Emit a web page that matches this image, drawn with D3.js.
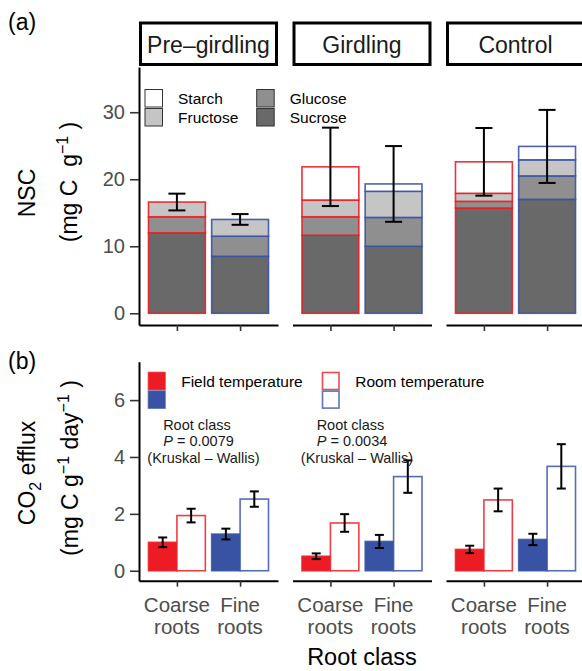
<!DOCTYPE html>
<html>
<head>
<meta charset="utf-8">
<script src="https://cdn.jsdelivr.net/npm/d3@7"></script>
<style>
  body { margin: 0; background: #fff; }
  svg { display: block; }
  text { font-family: "Liberation Sans", Arial, Helvetica, sans-serif; white-space: pre; }
</style>
</head>
<body>
<svg width="582" height="671"></svg>
<script>
// facets and root classes (rows of the arrays below: facet * 2 + root)
var facets = ["Pre–girdling", "Girdling", "Control"],
  roots = [["Coarse", "roots"], ["Fine", "roots"]],
  // (a) NSC stacks, mg C g-1
  sucrose  = [12.0, 8.5, 11.65, 10.0, 15.7, 17.0],
  glucose  = [2.4, 3.0, 2.75, 4.3, 1.0, 3.5],
  fructose = [2.2, 2.5, 2.5, 3.9, 1.2, 2.4],
  starch   = [0, 0, 4.95, 1.1, 4.7, 2.0],
  nscSE    = [1.25, 0.8, 5.85, 5.65, 5.05, 5.45],
  // (b) CO2 efflux, mg C g-1 day-1
  field    = [1.0, 1.29, 0.51, 1.03, 0.75, 1.1],
  fieldSE  = [0.17, 0.19, 0.1, 0.23, 0.13, 0.2],
  room     = [1.94, 2.52, 1.68, 3.31, 2.49, 3.67],
  roomSE   = [0.24, 0.27, 0.31, 0.57, 0.4, 0.78],
  pValues  = ["0.0079", "0.0034", null],
  nscTicks = [0, 10, 20, 30],
  effluxTicks = [0, 2, 4, 6];

var svg = d3.select("svg"),
  red = "#ed1c24",
  blue = "#3953a4",
  sugarNames = ["Sucrose", "Glucose", "Fructose", "Starch"],
  sugarFill = {Sucrose: "#696969", Glucose: "#8f8f8f", Fructose: "#c4c5c4", Starch: "#ffffff"},
  sugars = {Sucrose: sucrose, Glucose: glucose, Fructose: fructose, Starch: starch};

var panel = d3.scaleBand().domain(facets).range([139, 585]).paddingInner(0.0945).paddingOuter(0),
  ya = d3.scaleLinear().domain([-1.75, 36.75]).range([325, 67]),
  yb = d3.scaleLinear().domain([-0.35, 7.35]).range([580.7, 361.7]);

function xIn(f){
  return d3.scaleLinear().domain([0.4, 2.6]).range([panel(f), panel(f) + panel.bandwidth()]);
}

function rootColor(r){ return r === 0 ? red : blue; }

function styleAxis(g){
  g.select(".domain").attr("stroke", "#000").attr("stroke-width", 2);
  g.selectAll(".tick line").attr("stroke", "#333").attr("stroke-width", 1.6);
  g.selectAll(".tick text").attr("fill", "#4d4d4d").style("font-size", "20px")
    .style("font-family", "'Liberation Sans', Arial, sans-serif");
}

// y axes
svg.append("g").attr("transform", "translate(139,0)")
  .call(d3.axisLeft(ya).tickValues(nscTicks).tickSize(9).tickSizeOuter(0).tickPadding(5))
  .call(styleAxis);
svg.append("g").attr("transform", "translate(139,0)")
  .call(d3.axisLeft(yb).tickValues(effluxTicks).tickSize(9).tickSizeOuter(0).tickPadding(5))
  .call(styleAxis);

facets.forEach(function(f, fi){
  var x = xIn(f);

  // strip
  svg.append("rect")
    .attr("x", panel(f) + 1.5).attr("y", 23)
    .attr("width", panel.bandwidth() - 3).attr("height", 41.5)
    .attr("fill", "#fff").attr("stroke", "#000").attr("stroke-width", 3);
  svg.append("text")
    .attr("x", panel(f) + panel.bandwidth() / 2).attr("y", 52.5)
    .attr("text-anchor", "middle").style("font-size", "23px").attr("fill", "#1a1a1a")
    .text(f);

  // x axes
  svg.append("g").attr("transform", "translate(0,325)")
    .call(d3.axisBottom(x).tickValues([1, 2]).tickSize(6).tickSizeOuter(0).tickFormat(""))
    .call(styleAxis);
  svg.append("g").attr("transform", "translate(0,580.7)")
    .call(d3.axisBottom(x).tickValues([1, 2]).tickSize(6).tickSizeOuter(0).tickFormat(""))
    .call(styleAxis);

  roots.forEach(function(lbl, r){
    var i = fi * 2 + r, col = rootColor(r);

    // (a) stacked NSC
    var base = 0;
    sugarNames.forEach(function(s){
      var v = sugars[s][i];
      if (v > 0) {
        svg.append("rect")
          .attr("x", x(r + 1 - 0.45)).attr("width", x(r + 1.45) - x(r + 0.55))
          .attr("y", ya(base + v)).attr("height", ya(base) - ya(base + v))
          .attr("fill", sugarFill[s]).attr("stroke", col).attr("stroke-width", 1.6)
          .attr("stroke-opacity", 0.9);
      }
      base += v;
    });
    errorBar(x(r + 1), ya, base, nscSE[i], 8.5);

    // (b) CO2 efflux, dodged
    [[field, fieldSE, col], [room, roomSE, "#fff"]].forEach(function(d, k){
      var cx = r + 1 + (k === 0 ? -0.225 : 0.225), v = d[0][i];
      svg.append("rect")
        .attr("x", x(cx - 0.225)).attr("width", x(cx + 0.225) - x(cx - 0.225))
        .attr("y", yb(v)).attr("height", yb(0) - yb(v))
        .attr("fill", d[2]).attr("stroke", col).attr("stroke-width", 1.6)
        .attr("stroke-opacity", 0.85);
      errorBar(x(cx), yb, v, d[1][i], 4.5);
    });

    // tick labels (b), two lines in one text
    var tl = svg.append("text").attr("text-anchor", "middle").attr("fill", "#4d4d4d")
      .style("font-size", "20.5px");
    lbl.forEach(function(t, li){
      tl.append("tspan").attr("x", x(r + 1)).attr("y", 611.7 + li * 22).text(t);
    });
  });

  // Kruskal-Wallis note
  if (pValues[fi]) {
    var px = panel(f);
    var note = svg.append("text").attr("text-anchor", "middle")
      .style("font-size", "14.5px").attr("fill", "#1a1a1a");
    note.append("tspan").attr("x", px + 58).attr("y", 430).text("Root class");
    note.append("tspan").attr("x", px + 59.5).attr("y", 446.3).style("font-style", "italic").text("P");
    note.append("tspan").text(" = " + pValues[fi]);
    note.append("tspan").attr("x", px + 64.5).attr("y", 462.6).text("(Kruskal – Wallis)");
  }
});

function errorBar(cx, y, v, se, half){
  var g = svg.append("g").attr("stroke", "#000").attr("stroke-width", 2);
  g.append("line").attr("x1", cx).attr("x2", cx).attr("y1", y(v - se)).attr("y2", y(v + se));
  g.append("line").attr("x1", cx - half).attr("x2", cx + half).attr("y1", y(v - se)).attr("y2", y(v - se));
  g.append("line").attr("x1", cx - half).attr("x2", cx + half).attr("y1", y(v + se)).attr("y2", y(v + se));
}

// legend (a)
var legA = [["Starch", 145, 89.5], ["Fructose", 145, 108.5], ["Glucose", 256.7, 89.5], ["Sucrose", 256.7, 108.5]];
legA.forEach(function(d){
  svg.append("rect").attr("x", d[1]).attr("y", d[2]).attr("width", 17.5).attr("height", 17.5)
    .attr("fill", sugarFill[d[0]]).attr("stroke", "#333").attr("stroke-width", 1);
  svg.append("text").attr("x", d[1] + 33).attr("y", d[2] + 14)
    .style("font-size", "15.5px").attr("fill", "#000").text(d[0]);
});

// legend (b)
[[147.7, true, "Field temperature"], [321.7, false, "Room temperature"]].forEach(function(d){
  [red, blue].forEach(function(c, k){
    svg.append("rect").attr("x", d[0] + 0.8).attr("y", 372.5 + k * 18.6)
      .attr("width", 16.5).attr("height", 17)
      .attr("fill", d[1] ? c : "#fff").attr("stroke", c).attr("stroke-width", 1.6)
      .attr("stroke-opacity", 0.8);
  });
  svg.append("text").attr("x", d[0] + 33.5).attr("y", 387)
    .style("font-size", "15.5px").attr("fill", "#000").text(d[2]);
});

// panel labels
svg.append("text").attr("x", 8).attr("y", 30).style("font-size", "23px").text("(a)");
svg.append("text").attr("x", 8).attr("y", 369).style("font-size", "23px").text("(b)");

// axis titles
svg.append("text").attr("transform", "translate(35,193) rotate(-90)")
  .attr("text-anchor", "middle").style("font-size", "23px").text("NSC");
var ta = svg.append("text").attr("transform", "translate(77,182) rotate(-90)")
  .attr("text-anchor", "middle").style("font-size", "23px");
ta.append("tspan").text("(mg C  g");
ta.append("tspan").attr("dy", -9).style("font-size", "16px").text("−1");
ta.append("tspan").attr("dy", 9).text(" )");

var tb1 = svg.append("text").attr("transform", "translate(35,473) rotate(-90)")
  .attr("text-anchor", "middle").style("font-size", "23px");
tb1.append("tspan").text("CO");
tb1.append("tspan").attr("dy", 6).style("font-size", "16px").text("2");
tb1.append("tspan").attr("dy", -6).text(" efflux");

var tb2 = svg.append("text").attr("transform", "translate(78,468) rotate(-90)")
  .attr("text-anchor", "middle").style("font-size", "23px");
tb2.append("tspan").text("(mg C g");
tb2.append("tspan").attr("dy", -9).style("font-size", "16px").text("−1");
tb2.append("tspan").attr("dy", 9).text(" day");
tb2.append("tspan").attr("dy", -9).style("font-size", "16px").text("−1");
tb2.append("tspan").attr("dy", 9).text(" )");

svg.append("text").attr("x", 362).attr("y", 665).attr("text-anchor", "middle")
  .style("font-size", "23.5px").attr("fill", "#000").text("Root class");
</script>
</body>
</html>
